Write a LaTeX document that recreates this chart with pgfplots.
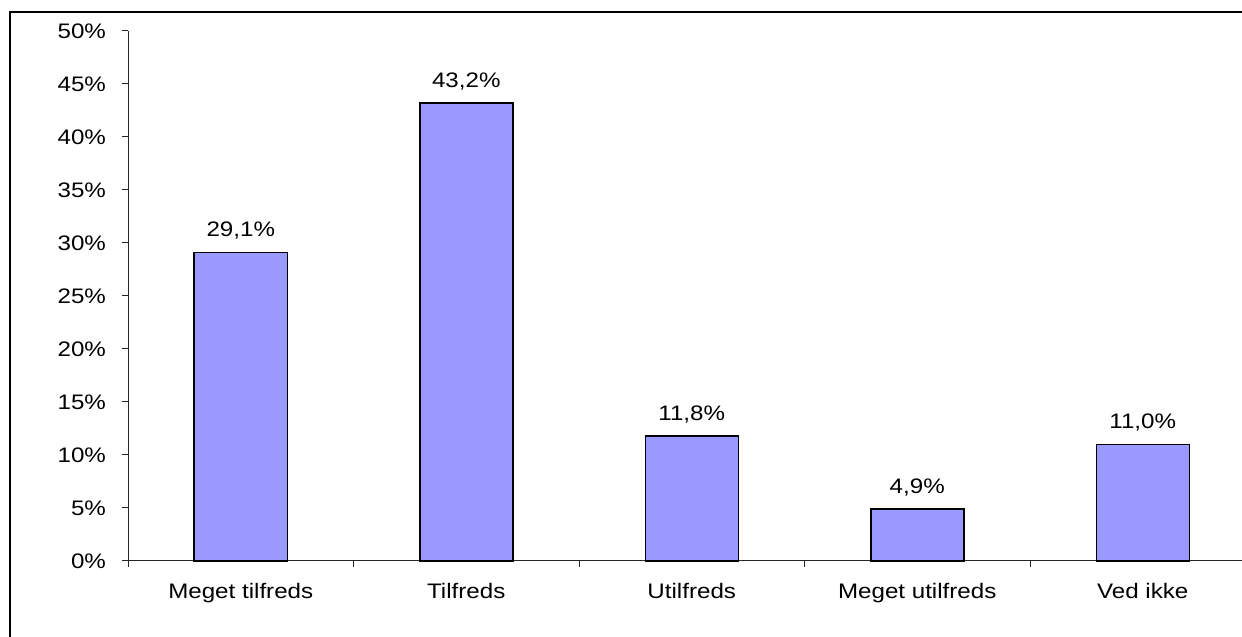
\documentclass[border=0pt]{standalone}
\usepackage{pgfplots}
\pgfplotsset{compat=1.18}
\usepackage{fontspec}
\setmainfont{Liberation Sans}[FakeStretch=1.15]
\definecolor{barblue}{HTML}{9999FF}

\begin{document}
\begin{tikzpicture}
% page area and frame (1 px = 0.5 pt)
\useasboundingbox (0,0) rectangle (621pt,318.5pt);
\clip (0,0) rectangle (621pt,318.5pt);
\draw[line width=1.1pt] (5pt,-20pt) -- (5pt,312.5pt) -- (640pt,312.5pt);
\begin{axis}[
  at={(64pt,38pt)}, anchor=south west,
  scale only axis, width=563.75pt, height=265pt,
  xmin=0, xmax=5, ymin=0, ymax=50,
  axis lines*=left,
  axis line style={line width=0.5pt, black!85},
  tick style={line width=0.5pt, black!85},
  tick align=outside,
  major tick length=3pt, minor tick length=3pt,
  ytick={0,5,...,50},
  yticklabel={\pgfmathprintnumber{\tick}\%},
  xtick={0.5,1.5,2.5,3.5,4.5},
  xticklabels={Meget tilfreds, Tilfreds, Utilfreds, Meget utilfreds, Ved ikke},
  major x tick style={draw=none},
  minor xtick={0,1,2,3,4,5},
  /pgf/number format/assume math mode=true,
  ticklabel style={font=\fontsize{10.5}{12}\selectfont},
  xticklabel style={yshift=-4.5pt},
  yticklabel style={xshift=-4.5pt},
  ybar, bar width=46.5pt, bar shift=0pt,
  nodes near coords={\pgfmathprintnumber[fixed,fixed zerofill,precision=1,use comma]{\pgfplotspointmeta}\%},
  every node near coord/.append style={font=\fontsize{10.5}{12}\selectfont, anchor=base, inner sep=0pt, yshift=7.8pt},
  clip=false,
]
\addplot[fill=barblue, draw=black, line width=0.75pt] coordinates {
  (0.5,29.1) (1.5,43.2) (2.5,11.8) (3.5,4.9) (4.5,11.0)
};
\end{axis}
\end{tikzpicture}
\end{document}
